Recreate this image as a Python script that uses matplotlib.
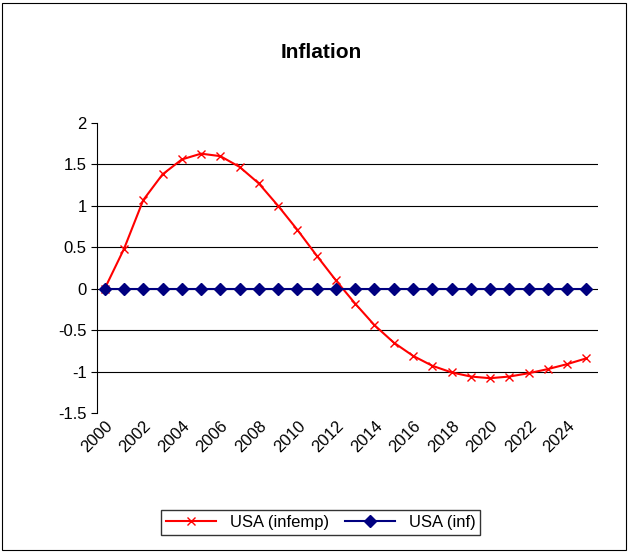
import matplotlib
matplotlib.use("Agg")
import matplotlib.pyplot as plt
from matplotlib.patches import Rectangle

years = list(range(2000, 2026))
infemp = [0, 0.48, 1.07, 1.38, 1.56, 1.63, 1.60, 1.47, 1.27, 1.00, 0.71, 0.40, 0.10,
          -0.18, -0.44, -0.65, -0.81, -0.93, -1.01, -1.06, -1.08, -1.06, -1.02, -0.97,
          -0.91, -0.84]
inf = [0] * len(years)
yticks = [-1.5, -1, -0.5, 0, 0.5, 1, 1.5, 2]

plt.rcParams["font.family"] = ["Liberation Sans", "DejaVu Sans"]

fig = plt.figure(figsize=(6.29, 5.52), dpi=100)
fig.patches.append(Rectangle((0.003, 0.003), 0.992, 0.992, transform=fig.transFigure,
                             fill=False, edgecolor="black", linewidth=0.8))
ax = fig.add_axes([97 / 629, 1 - 413 / 552, 501 / 629, 290 / 552])
for y in yticks[1:-1]:
    ax.axhline(y, color="black", linewidth=0.8, zorder=0)
ax.plot(years, infemp, color="red", marker="x", markersize=6, linewidth=1.5, label="USA (infemp)")
ax.plot(years, inf, color="#000080", marker="D", markersize=6, linewidth=1.5, label="USA (inf)")
ax.set_ylim(-1.5, 2)
ax.set_xlim(1999.6, 2025.6)
ax.set_yticks(yticks)
ax.set_yticklabels(["-1.5", "-1", "-0.5", "0", "0.5", "1", "1.5", "2"], fontsize=12)
ax.set_xticks(years[::2])
ax.set_xticklabels([str(y) for y in years[::2]], rotation=45, ha="right", fontsize=12,
                   rotation_mode="anchor")
for s in ["top", "right", "bottom"]:
    ax.spines[s].set_visible(False)
ax.tick_params(direction="out", length=4)
ax.tick_params(axis="x", length=0)
fig.text(0.51, 1 - 53 / 552, "Inflation", ha="center", va="center", fontsize=15, fontweight="bold")
fig.legend(loc="center", bbox_to_anchor=(0.51, 1 - 522 / 552), ncol=2, fontsize=12,
           frameon=True, fancybox=False, edgecolor="black", handlelength=3, columnspacing=1,
           borderpad=0.3)
fig.savefig("out.png", dpi=100)
